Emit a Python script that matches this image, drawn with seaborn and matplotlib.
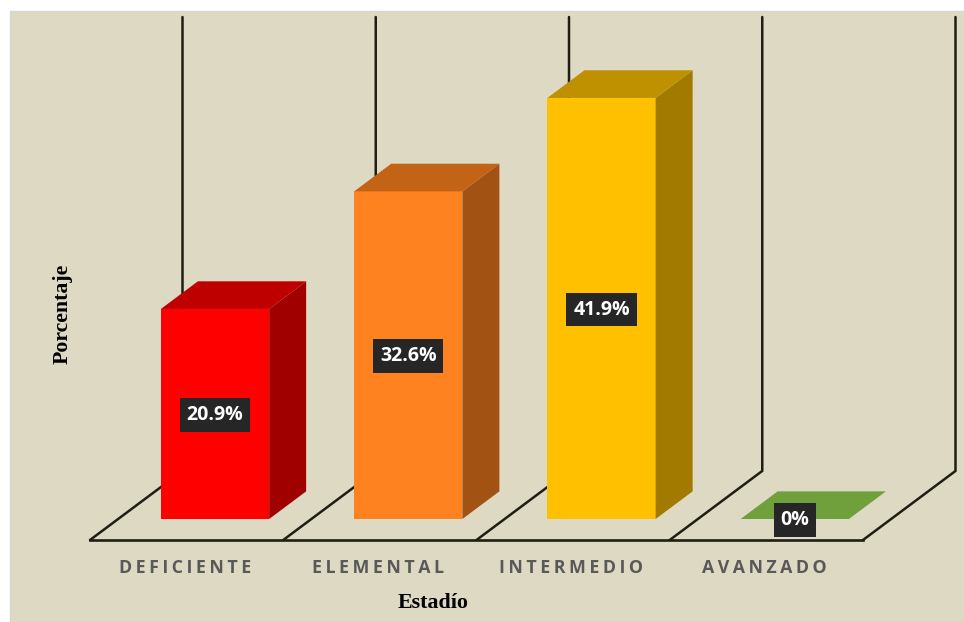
import numpy as np
import matplotlib
matplotlib.use("Agg")
import matplotlib.pyplot as plt
from matplotlib.patches import Rectangle
import seaborn as sns

# data
stages = ['DEFICIENTE', 'ELEMENTAL', 'INTERMEDIO', 'AVANZADO']
values = [20.9, 32.6, 41.9, 0]
value_labels = ['20.9%', '32.6%', '41.9%', '0%']

# colours of the three visible faces
front_colors = ['#FF0000', '#FF8221', '#FFC000', '#70A03C']
side_colors = ['#A00000', '#A25212', '#A27A00', '#70A03C']
top_colors = ['#BF0000', '#C26316', '#BF9000', '#70A03C']

BG = '#DDD9C3'
LINE = '#1E1E14'

sns.set_style("white")
plt.rcParams['font.family'] = ['Open Sans', 'DejaVu Sans']

fig = plt.figure(figsize=(9.64, 6.22), dpi=100, facecolor='white')
fig.patches.append(Rectangle((9.5 / 964, 0), 1, 1 - 10.5 / 622, transform=fig.transFigure,
                             facecolor=BG, edgecolor='#D6D6D6', linewidth=1, zorder=-5))

# axes box is the floor's front edge up to the top of the walls
ax = fig.add_axes([90 / 964, (622 - 540) / 622, 773 / 964, 523 / 622])
ax.patch.set_alpha(0)

sns.barplot(x=stages, y=values, hue=stages, palette=front_colors, saturation=1,
            width=0.56, legend=False, ax=ax, zorder=3, linewidth=0)

x_left, x_right = -0.647, 3.353
y_floor, y_top = -2.09, 49.95
ax.set_xlim(x_left, x_right)
ax.set_ylim(y_floor, y_top)

# back wall and floor dividers
wall_dx, wall_dy = 92.5 / 193.25, 6.87
for i in range(len(stages) + 1):
    x0 = x_left + i
    ax.plot([x0, x0 + wall_dx, x0 + wall_dx], [y_floor, y_floor + wall_dy, y_top],
            color=LINE, lw=1.8, clip_on=False, zorder=1, solid_joinstyle='miter')

# fake 3D: side and top faces taken from each drawn bar
depth_x, depth_y = 37 / 193.25, 2.75
for i, bar in enumerate(ax.patches):
    x0, w, h = bar.get_x(), bar.get_width(), bar.get_height()
    x1 = x0 + w
    if h > 0:
        ax.fill([x1, x1 + depth_x, x1 + depth_x, x1], [0, depth_y, h + depth_y, h],
                color=side_colors[i], lw=0, zorder=3, clip_on=False)
    ax.fill([x0, x0 + depth_x, x1 + depth_x, x1], [h, h + depth_y, h + depth_y, h],
            color=top_colors[i], lw=0, zorder=3, clip_on=False)

for container, label in zip(ax.containers, value_labels):
    for txt in ax.bar_label(container, labels=[label], label_type='center', color='white',
                            fontsize=14, fontweight='bold', zorder=5,
                            bbox=dict(boxstyle='square,pad=0.35', facecolor='#262626', edgecolor='none')):
        txt.xyann = (0, -0.8)

# letter spaced category labels, centred on the floor sections
spaced = ['\u2009'.join(s) for s in stages]
ax.set_xticks(np.arange(len(stages)) - 0.157, spaced)
ax.tick_params(axis='x', length=0, pad=14, labelsize=12.75, labelcolor='#595959')
for t in ax.get_xticklabels():
    t.set_fontweight('bold')
ax.set_yticks([])

for side in ['top', 'left', 'right']:
    ax.spines[side].set_visible(False)
ax.spines['bottom'].set_color(LINE)
ax.spines['bottom'].set_linewidth(1.9)

serif = ['Liberation Serif', 'DejaVu Serif']
ax.set_xlabel('Estadío', family=serif, fontweight='bold', fontsize=15.8, color='black')
ax.xaxis.set_label_coords((433 - 90) / 773, (540 - 603) / 523, transform=ax.transAxes)
ax.xaxis.label.set_verticalalignment('center')
ax.set_ylabel('Porcentaje', family=serif, fontweight='bold', fontsize=15.7, color='black')
ax.yaxis.set_label_coords((63 - 90) / 773, (540 - 314) / 523, transform=ax.transAxes)
ax.yaxis.label.set_verticalalignment('center')

fig.savefig('out.png', dpi=100, facecolor=fig.get_facecolor())
